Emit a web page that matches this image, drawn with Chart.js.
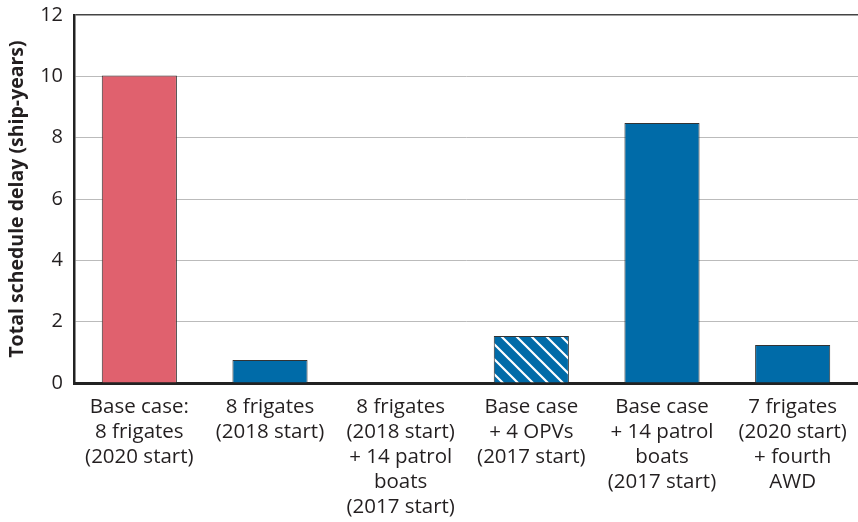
<!DOCTYPE html>
<html>
<head>
<meta charset="utf-8">
<script src="https://cdn.jsdelivr.net/npm/chart.js@4/dist/chart.umd.min.js"></script>
<style>
html,body{margin:0;padding:0;background:#fff;}
#wrap{width:858px;height:522px;}
</style>
</head>
<body>
<div id="wrap"><canvas id="c" width="858" height="522"></canvas></div>
<script>
const categories = [
  ["Base case:", "8 frigates", "(2020 start)"],
  ["8 frigates", "(2018 start)"],
  ["8 frigates", "(2018 start)", "+ 14 patrol", "boats", "(2017 start)"],
  ["Base case", "+ 4 OPVs", "(2017 start)"],
  ["Base case", "+ 14 patrol", "boats", "(2017 start)"],
  ["7 frigates", "(2020 start)", "+ fourth", "AWD"]
];
const delays = [10.03, 0.75, 0, 1.53, 8.48, 1.24];
const yTicks = [0, 2, 4, 6, 8, 10, 12];
const yTitle = "Total schedule delay (ship-years)";

const RED = "#E0616E";
const BLUE = "#006BA8";

function hatch() {
  const s = 15;
  const p = document.createElement("canvas");
  p.width = s; p.height = s;
  const g = p.getContext("2d");
  g.fillStyle = BLUE;
  g.fillRect(0, 0, s, s);
  g.strokeStyle = "#ffffff";
  g.lineWidth = 2.2;
  g.beginPath();
  g.moveTo(-2, -2); g.lineTo(s + 2, s + 2);
  g.moveTo(-2 - s, -2); g.lineTo(2, s + 2);
  g.moveTo(s - 2, -2); g.lineTo(2 * s + 2, s + 2);
  g.stroke();
  return g.createPattern(p, "repeat");
}
const hatchFill = hatch();
const fills = [RED, BLUE, BLUE, hatchFill, BLUE, BLUE];

const FONT = "'Open Sans', 'Noto Sans', sans-serif";

new Chart(document.getElementById("c"), {
  type: "bar",
  data: {
    labels: categories,
    datasets: [{
      data: delays,
      backgroundColor: fills,
      borderColor: "#333333",
      borderWidth: 1,
      borderSkipped: "bottom",
      categoryPercentage: 1,
      barPercentage: 0.575
    }]
  },
  options: {
    responsive: false,
    animation: false,
    layout: { padding: { top: 15, right: 0, bottom: 0, left: 0 } },
    plugins: { legend: { display: false }, tooltip: { enabled: false } },
    scales: {
      x: {
        grid: { display: false, drawTicks: false },
        border: { display: true, color: "#222222", width: 3 },
        afterFit: (axis) => { axis.height = 139; axis.paddingLeft = 0; axis.paddingRight = 0; },
        ticks: {
          color: "#231f20",
          font: { family: FONT, size: 20.5, lineHeight: 25 / 20.5 },
          padding: 12,
          maxRotation: 0,
          autoSkip: false
        }
      },
      y: {
        min: 0, max: 12,
        afterBuildTicks: (axis) => { axis.ticks = yTicks.map(v => ({ value: v })); },
        afterFit: (axis) => { axis.width = 74; axis.paddingTop = 0; axis.paddingBottom = 0; },
        grid: {
          drawTicks: false,
          color: (ctx) => ctx.tick && ctx.tick.value === 12 ? "#444444" : "#bbbbbb",
          lineWidth: (ctx) => ctx.tick && ctx.tick.value === 12 ? 1.5 : 1
        },
        border: { display: true, color: "#222222", width: 2.5 },
        ticks: {
          color: "#231f20",
          font: { family: FONT, size: 20 },
          padding: 11
        },
        title: {
          display: true,
          text: yTitle,
          color: "#231f20",
          font: { family: FONT, size: 19.5, weight: "bold" },
          padding: { top: 6, bottom: 3 }
        }
      }
    }
  }
});
</script>
</body>
</html>
